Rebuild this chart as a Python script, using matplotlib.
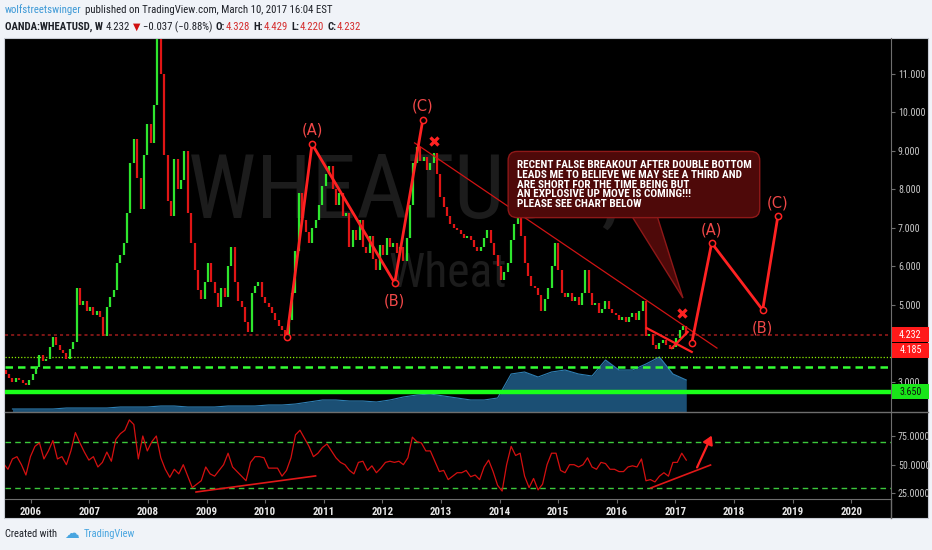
import os
import numpy as np
import pandas as pd
import matplotlib
matplotlib.use("Agg")
import matplotlib.pyplot as plt
from matplotlib import font_manager
from matplotlib.font_manager import FontProperties
from matplotlib.lines import Line2D
from matplotlib.patches import Rectangle, Polygon
from matplotlib.transforms import blended_transform_factory

W, H = 932, 550

# ---- data ----
# weekly wheat, one close every 3 weeks, ending 2017-03-10
first_open = 3.3
close = [
    3.2, 3.1, 3.0, 3.1, 3.05, 2.98, 2.92, 3.05, 3.2, 3.4,
    3.7, 3.55, 3.6, 3.9, 4.17, 3.95, 3.83, 3.75, 3.6, 3.85,
    4.05, 5.45, 5.0, 5.1, 4.85, 4.95, 4.75, 4.85, 4.7, 4.2,
    4.95, 5.2, 5.4, 6.1, 6.3, 6.6, 7.4, 8.7, 9.3, 8.3,
    7.5, 8.9, 9.7, 9.2, 10.2, 11.9, 11.0, 8.9, 7.7, 7.3,
    8.8, 8.0, 8.25, 9.0, 7.4, 6.6, 5.9, 5.4, 5.15, 5.6,
    6.1, 5.6, 5.3, 4.95, 5.45, 5.2, 6.0, 6.5, 5.6, 5.1,
    4.95, 4.55, 4.3, 5.3, 5.5, 5.6, 5.2, 5.05, 4.95, 4.8,
    4.6, 4.45, 4.35, 4.2, 4.6, 5.3, 6.4, 7.9, 7.2, 6.9,
    6.6, 7.0, 7.2, 7.6, 8.1, 8.4, 8.6, 8.0, 7.6, 7.9,
    7.3, 7.4, 6.5, 6.95, 6.7, 7.2, 6.5, 6.35, 6.8, 6.2,
    5.9, 6.55, 6.3, 6.75, 6.5, 6.6, 6.35, 6.5, 6.15, 6.75,
    7.6, 8.7, 9.1, 8.75, 8.85, 8.5, 8.7, 8.95, 8.4, 7.8,
    7.55, 7.3, 7.1, 7.0, 6.95, 6.85, 6.75, 6.8, 6.7, 6.5,
    6.4, 6.5, 6.75, 6.95, 6.6, 6.3, 6.0, 5.65, 5.85, 6.1,
    6.7, 7.1, 7.3, 6.8, 6.1, 5.75, 5.5, 5.45, 5.25, 4.85,
    5.15, 5.45, 6.0, 6.6, 5.9, 5.3, 5.2, 5.3, 5.1, 5.2,
    5.0, 5.3, 5.9, 5.3, 5.0, 5.05, 4.8, 4.9, 5.1, 4.9,
    4.8, 4.75, 4.6, 4.7, 4.55, 4.7, 4.8, 4.6, 4.85, 5.1,
    4.2, 4.25, 3.95, 3.85, 4.0, 4.1, 3.95, 3.85, 3.9, 4.15,
    4.35, 4.45, 4.232,
]

# volume overlay, every 12 weeks
volume = [
    3, 3, 3, 3, 4, 4, 4, 4, 5, 5,
    5, 6, 6, 5, 5, 5, 6, 6, 6, 7,
    7, 8, 10, 12, 12, 11, 11, 10, 12, 15,
    17, 18, 16, 14, 12, 12, 14, 38, 40, 35,
    40, 42, 38, 36, 52, 42, 42, 48, 55, 38,
    32,
]

# RSI every 4 weeks
rsi = [
    51, 46, 55, 57, 50, 41, 57, 66, 69, 55,
    62, 71, 55, 57, 50, 62, 78, 69, 61, 54,
    57, 48, 52, 61, 53, 72, 77, 80, 89, 85,
    55, 75, 62, 70, 75, 56, 46, 39, 46, 42,
    50, 40, 30, 33, 36, 48, 42, 40, 45, 50,
    60, 48, 44, 40, 36, 52, 57, 57, 56, 47,
    47, 47, 40, 45, 56, 76, 80, 73, 66, 57,
    60, 65, 68, 62, 56, 52, 50, 45, 42, 52,
    53, 45, 49, 43, 47, 52, 53, 52, 53, 50,
    56, 74, 70, 69, 62, 62, 53, 44, 45, 37,
    40, 43, 43, 45, 39.5, 41, 37, 48, 54, 44,
    32, 27, 50, 66, 58, 60, 40, 30, 38, 28,
    33, 50, 60, 60, 45, 43, 50, 50, 48, 50,
    56, 48, 46, 52, 51, 46, 46, 44, 44, 48,
    49, 48, 55, 36, 37, 35, 40, 43, 40, 52,
    52, 60, 54,
]

# elliott wave drawings (decimal year, price)
wave_past_t = [2010.37, 2010.80, 2012.21, 2012.69]
wave_past_p = [4.17, 9.18, 5.57, 9.81]
wave_next_t = [2017.28, 2017.62, 2018.49, 2018.75]
wave_next_p = [4.01, 6.61, 4.87, 7.31]
wave_labels = ["(A)", "(B)", "(C)"]
label_past_p = [9.55, 5.10, 10.17]
label_next_p = [6.95, 4.40, 7.65]
x_marks_t = [2012.88, 2017.11]
x_marks_p = [9.26, 4.79]
trend_t, trend_p = [2012.55, 2017.71], [9.21, 3.88]
wedge_t, wedge_p = [2016.51, 2017.28], [4.40, 3.78]
kick_t, kick_p = [2016.94, 2017.21], [3.88, 4.30]

rsi_trend1_t, rsi_trend1_v = [2008.82, 2010.86], [26.2, 40.2]
rsi_trend2_t, rsi_trend2_v = [2016.58, 2017.60], [29.7, 49.7]
rsi_arrow_t, rsi_arrow_v = [2017.35, 2017.64], [45.4, 77.6]

price_ticks = [3, 5, 6, 7, 8, 9, 10, 11]
rsi_ticks = [25, 50, 75]
years = list(range(2006, 2021))

last_price, prev_label, support = 4.232, 4.185, 3.65
green_dash, green_thick = 3.39, 2.74

note = ("RECENT FALSE BREAKOUT AFTER DOUBLE BOTTOM\n"
        "LEADS ME TO BELIEVE WE MAY SEE A THIRD AND\n"
        "ARE SHORT FOR THE TIME BEING BUT\n"
        "AN EXPLOSIVE UP MOVE IS COMING!!!\n"
        "PLEASE SEE CHART BELOW")

# narrow fonts if the system has them
files = {os.path.basename(f.fname): f.fname for f in font_manager.fontManager.ttflist}


def pick(names):
    for n in names:
        if n in files:
            return FontProperties(fname=files[n])
    return FontProperties(family="DejaVu Sans")


NARROW_R = pick(["LiberationSansNarrow-Regular.ttf", "RobotoCondensed-Regular.ttf",
                 "ArchivoNarrow[wght].ttf", "DejaVuSansCondensed.ttf"])
NARROW_B = pick(["LiberationSansNarrow-Bold.ttf", "RobotoCondensed-Bold.ttf",
                 "AsapCondensed-Bold.ttf", "DejaVuSansCondensed-Bold.ttf"])


def fp(bold=False, size=8):
    p = (NARROW_B if bold else NARROW_R).copy()
    p.set_size(size)
    return p


def dec_year(idx):
    return np.asarray(idx.year + (idx.dayofyear - 1) / 365.25)


def fig_box(x0, y0, x1, y1):
    return [x0 / W, 1 - y1 / H, (x1 - x0) / W, (y1 - y0) / H]


t_close = dec_year(pd.date_range(end="2017-03-10", periods=len(close), freq="21D"))
t_vol = dec_year(pd.date_range(end="2017-03-10", periods=len(volume), freq="84D"))
t_rsi = dec_year(pd.date_range(end="2017-03-10", periods=len(rsi), freq="28D"))

XLIM = (2005.56, 2020.68)
GRAY = "#6e6e6e"
RED = "#ff2222"

fig = plt.figure(figsize=(W / 100, H / 100), dpi=100, facecolor="#f0f3f8")
renderer = fig.canvas.get_renderer()


def fit_size(text, bold, width_px):
    t = fig.text(0, 0, text, fontproperties=fp(bold, 10))
    w = t.get_window_extent(renderer).width
    t.remove()
    return 10 * width_px / w


fig.patches.append(Rectangle((4 / W, 1 - 518 / H), 924 / W, 480 / H,
                             transform=fig.transFigure, fc="black", ec="#c8ccd4",
                             lw=0.8, zorder=-5))

# volume + watermark underneath
vax = fig.add_axes(fig_box(5, 38, 891, 412), frameon=False)
vax.set_xlim(*XLIM)
vax.set_ylim(0, 374)
vax.axis("off")
vax.fill_between(t_vol, 0, volume, color="#1b4f74", lw=0)
vax.plot(t_vol, volume, color="#2f7fb3", lw=0.8)
vax.text(0.5, 0.585, "WHEATUSD, W", transform=vax.transAxes, ha="center", va="center",
         fontproperties=fp(False, fit_size("WHEATUSD, W", False, 520)), color="#1c1c1c")
vax.text(0.5, 0.37, "Wheat", transform=vax.transAxes, ha="center", va="center",
         fontproperties=fp(False, fit_size("Wheat", False, 118)), color="#1c1c1c")

# price pane
ax = fig.add_axes(fig_box(5, 38, 891, 412), facecolor="none")
ax.set_zorder(vax.get_zorder() + 1)
ax.set_xlim(*XLIM)
ax.set_ylim(2.22, 11.935)
for s in ["left", "top", "bottom"]:
    ax.spines[s].set_visible(False)
ax.spines["right"].set_color(GRAY)
ax.tick_params(axis="x", bottom=False, labelbottom=False)
ax.yaxis.tick_right()
ax.set_yticks(price_ticks)
ax.set_yticklabels([f"{v:.3f}" for v in price_ticks])
ax.tick_params(axis="y", colors=GRAY, labelcolor="#c8c8c8", length=3, pad=2)
tick_size = fit_size("11.000", False, 27)
for lab in ax.get_yticklabels():
    lab.set_fontproperties(fp(False, tick_size))

opens = np.array([first_open] + close[:-1])
closes = np.array(close)
bar_colors = np.where(closes >= opens, "#2ee62e", "#e01515")
ax.vlines(t_close, np.minimum(opens, closes), np.maximum(opens, closes),
          colors=bar_colors, lw=1.6, zorder=3)

ax.axhline(last_price, color="#a01c1c", ls=(0, (2, 2)), lw=1.1, zorder=2)
ax.axhline(support, color="#8cf000", ls=(0, (1, 1.5)), lw=0.9, zorder=2)
ax.axhline(green_dash, color="#33ff33", ls=(0, (3, 2)), lw=1.8, zorder=2)
ax.axhline(green_thick, color="#1aff1a", lw=3.2, zorder=2)

ax.plot(trend_t, trend_p, color="#d01414", lw=0.9, zorder=4)
ax.plot(wedge_t, wedge_p, color=RED, lw=1.6, zorder=4)
ax.plot(kick_t, kick_p, color=RED, lw=1.6, zorder=4)
for tt, pp, lp in [(wave_past_t, wave_past_p, label_past_p), (wave_next_t, wave_next_p, label_next_p)]:
    ax.plot(tt, pp, color=RED, lw=2.0, zorder=5, marker="o", ms=4.5,
            mfc="black", mec=RED, mew=1.1)
    for lab, x, y in zip(wave_labels, tt[1:], lp):
        ax.text(x, y, lab, color="#f04848", fontsize=10.5, ha="center", va="center", zorder=6)
ax.plot(x_marks_t, x_marks_p, ls="none", marker="x", ms=6, mew=2.4, color=RED, zorder=6)

# callout with pointer
note_size = fit_size(note.split("\n")[0], True, 235)
ax.add_patch(Polygon([(2016.22, 7.40), (2016.67, 7.40), (2017.13, 5.18)], closed=True,
                     fc="#4e0909", ec="#8e1818", lw=1, zorder=7))
ax.text(2014.29, 8.77, note, color="white", fontproperties=fp(True, note_size),
        ha="left", va="top", linespacing=0.98, zorder=8,
        bbox=dict(boxstyle="round,pad=0.75,rounding_size=0.8", fc="#4e0909", ec="#8e1818", lw=1))

# price labels on the price scale
ytrans = blended_transform_factory(ax.transAxes, ax.transData)
px_per_unit = (ax.transData.transform((0, 1)) - ax.transData.transform((0, 0)))[1]
box_w = 37 / 886
box_h = 15 / px_per_unit
for txt, level, dy_px, fc, tc in [("4.232", last_price, 0, "#ff1a1a", "white"),
                                  ("4.185", prev_label, -14, "#ff1a1a", "white"),
                                  ("3.650", green_thick, 0, "#19e619", "#101010")]:
    yc = level + dy_px / px_per_unit
    ax.add_patch(Rectangle((1.001, yc - box_h / 2), box_w, box_h, transform=ytrans,
                           fc=fc, ec="none", clip_on=False, zorder=9))
    ax.text(1.001 + box_w / 2, yc, txt, transform=ytrans, ha="center", va="center",
            fontproperties=fp(False, tick_size), color=tc, clip_on=False, zorder=10)

# RSI pane
rax = fig.add_axes(fig_box(5, 412, 891, 499), facecolor="none")
rax.set_xlim(*XLIM)
rax.set_ylim(20.1, 95.9)
for s in ["left", "top"]:
    rax.spines[s].set_visible(False)
rax.spines["right"].set_color(GRAY)
rax.spines["bottom"].set_color(GRAY)
rax.yaxis.tick_right()
rax.set_yticks(rsi_ticks)
rax.set_yticklabels([f"{v:.4f}" for v in rsi_ticks])
rax.set_xticks(years)
rax.set_xticklabels([str(y) for y in years])
rax.tick_params(axis="y", colors=GRAY, labelcolor="#c8c8c8", length=3, pad=2)
rax.tick_params(axis="x", colors=GRAY, labelcolor="#e6e6e6", length=3, pad=3)
for lab in rax.get_yticklabels():
    lab.set_fontproperties(fp(False, tick_size))
year_size = fit_size("2006", True, 22)
for lab in rax.get_xticklabels():
    lab.set_fontproperties(fp(True, year_size))
for lvl in (70, 30):
    rax.axhline(lvl, color="#3cc83c", ls=(0, (4, 3)), lw=1.0)
rax.plot(t_rsi, rsi, color="#d41010", lw=0.9)
rax.plot(rsi_trend1_t, rsi_trend1_v, color="#e01818", lw=1.2)
rax.plot(rsi_trend2_t, rsi_trend2_v, color="#e01818", lw=1.2)
rax.annotate("", xy=(rsi_arrow_t[1], rsi_arrow_v[1]), xytext=(rsi_arrow_t[0], rsi_arrow_v[0]),
             arrowprops=dict(arrowstyle="-|>,head_length=0.5,head_width=0.3", color=RED, lw=1.6))

# separator between panes runs to the panel edge
fig.lines.append(Line2D([5 / W, 928 / W], [1 - 412 / H, 1 - 412 / H],
                        transform=fig.transFigure, color=GRAY, lw=1))
fig.lines.append(Line2D([891 / W, 891 / W], [1 - 518 / H, 1 - 499 / H],
                        transform=fig.transFigure, color=GRAY, lw=1))


# header and footer text
def put_row(x_px, y_px, pieces, size):
    for text, color, bold, gap in pieces:
        t = fig.text(x_px / W, 1 - y_px / H, text, color=color, fontproperties=fp(bold, size),
                     ha="left", va="center")
        if text in ("\u25bc", "\u2601"):
            t.set_fontproperties(FontProperties(family=["DejaVu Sans"],
                                                size=size * (0.9 if text == "\u25bc" else 1.4)))
        x_px += t.get_window_extent(renderer).width + gap


DARK = "#1c1f26"
VAL = "#d42a2a"
head_size = fit_size("wolfstreetswinger published on TradingView.com, March 10, 2017 16:04 EST", False, 322)
put_row(5, 10, [("wolfstreetswinger", "#3b98d6", False, 3),
                ("published on TradingView.com, March 10, 2017 16:04 EST", DARK, False, 0)], head_size)
put_row(5, 27, [("OANDA:WHEATUSD, W", DARK, True, 3),
                ("4.232", DARK, False, 3),
                ("\u25bc", "#d01010", False, 2),
                ("\u22120.037 (\u22120.88%)", DARK, False, 4),
                ("O:", DARK, True, 0), ("4.328", VAL, False, 4),
                ("H:", DARK, True, 0), ("4.429", VAL, False, 4),
                ("L:", DARK, True, 0), ("4.220", VAL, False, 4),
                ("C:", DARK, True, 0), ("4.232", VAL, False, 0)], head_size)
foot_size = fit_size("Created with", False, 52)
put_row(5, 534, [("Created with", DARK, False, 7),
                 ("\u2601", "#48a5e0", False, 5),
                 ("TradingView", "#48a5e0", False, 0)], foot_size)

fig.savefig("out.png", dpi=100, facecolor=fig.get_facecolor())
